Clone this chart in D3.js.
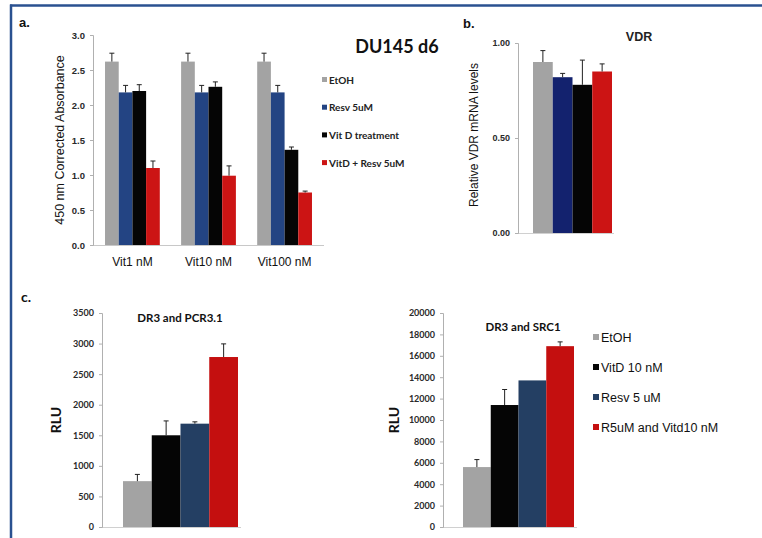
<!DOCTYPE html>
<html><head><meta charset="utf-8">
<script src="https://cdn.jsdelivr.net/npm/d3@7"></script>
<style>body{margin:0;background:#fff}svg{display:block}</style>
</head><body>
<svg id="c" width="762" height="538"></svg>
<script>
// ---- Data ----
const aGroups = ["Vit1 nM", "Vit10 nM", "Vit100 nM"];
const aSeries = ["EtOH", "Resv 5uM", "Vit D treatment", "VitD + Resv 5uM"];
const aValues = [[2.62, 2.62, 2.62], [2.18, 2.18, 2.18], [2.20, 2.26, 1.36], [1.10, 0.99, 0.75]];
const aErrors = [[0.12, 0.12, 0.12], [0.10, 0.10, 0.10], [0.09, 0.07, 0.04], [0.10, 0.14, 0.02]];
const aTicks = [0, 0.5, 1.0, 1.5, 2.0, 2.5, 3.0];

const bSeries = ["EtOH", "Resv 5uM", "Vit D treatment", "VitD + Resv 5uM"];
const bValues = [0.90, 0.82, 0.78, 0.85];
const bErrors = [0.06, 0.02, 0.13, 0.04];
const bTicks = [0, 0.5, 1.0];

const cSeries = ["EtOH", "VitD 10 nM", "Resv 5 uM", "R5uM and Vitd10 nM"];
const c1Values = [750, 1500, 1690, 2780];
const c1Errors = [110, 235, 30, 215];
const c1Ticks = [0, 500, 1000, 1500, 2000, 2500, 3000, 3500];
const c2Values = [5600, 11400, 13700, 16900];
const c2Errors = [700, 1450, 0, 400];
const c2Ticks = [0, 2000, 4000, 6000, 8000, 10000, 12000, 14000, 16000, 18000, 20000];

// ---- Styles ----
const aColors = ["#a3a3a3", "#234483", "#050505", "#cc1414"];
const bColors = ["#a3a3a3", "#13226e", "#050505", "#cc1414"];
const cColors = ["#a3a3a3", "#050505", "#243f63", "#c40f0f"];
const ARIAL = "'Liberation Sans', Arial, sans-serif";
const CAL = "Lato, 'Open Sans', sans-serif";

const svg = d3.select("#c");

// frame
svg.append("line").attr("x1", 10).attr("x2", 762).attr("y1", 5.5).attr("y2", 5.5)
  .attr("stroke", "#2a5190").attr("stroke-width", 2.5);
svg.append("line").attr("x1", 11).attr("x2", 11).attr("y1", 4.5).attr("y2", 538)
  .attr("stroke", "#2a5190").attr("stroke-width", 2.5);

function yAxis(g, y, x, ticks, fmt, font, size) {
  const ax = d3.axisLeft(y).tickValues(ticks).tickFormat(fmt).tickSize(3).tickPadding(5);
  const gg = g.append("g").attr("transform", `translate(${x},0)`).call(ax);
  gg.select(".domain").attr("stroke", "#b0b0b0");
  gg.selectAll(".tick line").attr("stroke", "#b0b0b0");
  gg.selectAll("text").attr("font-family", font).attr("font-size", size)
    .attr("font-weight", "bold").attr("fill", "#2a2a2a");
  return gg;
}

function errBar(g, x, yTop, yErr, capW) {
  if (yTop - yErr < 0.5) return;
  g.append("line").attr("x1", x).attr("x2", x).attr("y1", yTop).attr("y2", yErr)
    .attr("stroke", "#222").attr("stroke-width", 1);
  g.append("line").attr("x1", x - capW / 2).attr("x2", x + capW / 2).attr("y1", yErr).attr("y2", yErr)
    .attr("stroke", "#222").attr("stroke-width", 1);
}

// ===== Panel a =====
{
  const g = svg.append("g");
  const y = d3.scaleLinear().domain([0, 3]).range([245, 35]);
  const x0 = d3.scaleBand().domain(aGroups).range([93, 324]).paddingInner(0.28).paddingOuter(0.158);
  const x1 = d3.scaleBand().domain(aSeries).range([0, x0.bandwidth()]);
  g.append("line").attr("x1", 93).attr("x2", 324).attr("y1", 245.5).attr("y2", 245.5).attr("stroke", "#c8c8c8");
  yAxis(g, y, 93, aTicks, d3.format(".1f"), ARIAL, 9.5);
  aSeries.forEach((s, si) => {
    aGroups.forEach((grp, gi) => {
      const bx = x0(grp) + x1(s);
      const v = aValues[si][gi];
      g.append("rect").attr("x", bx).attr("y", y(v)).attr("width", x1.bandwidth()).attr("height", y(0) - y(v))
        .attr("fill", aColors[si]);
      errBar(g, bx + x1.bandwidth() / 2, y(v), y(v + aErrors[si][gi]), 5);
    });
  });
  aGroups.forEach(grp => {
    g.append("text").attr("x", x0(grp) + x0.bandwidth() / 2).attr("y", 266).attr("text-anchor", "middle")
      .attr("font-family", ARIAL).attr("font-size", 12).attr("fill", "#111").text(grp);
  });
  g.append("text").attr("transform", "translate(64,140) rotate(-90)").attr("text-anchor", "middle")
    .attr("font-family", ARIAL).attr("font-size", 12.5).attr("fill", "#111").text("450 nm Corrected Absorbance");
  g.append("text").attr("x", 19).attr("y", 27).attr("font-family", ARIAL).attr("font-weight", "bold")
    .attr("font-size", 13).attr("fill", "#111").text("a.");
  g.append("text").attr("x", 397).attr("y", 53).attr("text-anchor", "middle").attr("font-family", CAL)
    .attr("font-weight", "bold").attr("font-size", 18).attr("fill", "#111").text("DU145 d6");
  aSeries.forEach((s, i) => {
    const ly = 80 + i * 27.7;
    g.append("rect").attr("x", 322).attr("y", ly - 3).attr("width", 5).attr("height", 5).attr("fill", aColors[i]);
    g.append("text").attr("x", 329).attr("y", ly + 3.5).attr("font-family", CAL).attr("font-weight", "bold")
      .attr("font-size", 10).attr("fill", "#222").text(s);
  });
}

// ===== Panel b =====
{
  const g = svg.append("g");
  const y = d3.scaleLinear().domain([0, 1]).range([233, 43]);
  const x = d3.scaleBand().domain(bSeries).range([533, 612]);
  g.append("line").attr("x1", 518).attr("x2", 614).attr("y1", 233.5).attr("y2", 233.5).attr("stroke", "#d0d0d0");
  yAxis(g, y, 518, bTicks, d3.format(".2f"), ARIAL, 9);
  bSeries.forEach((s, i) => {
    const v = bValues[i];
    g.append("rect").attr("x", x(s)).attr("y", y(v)).attr("width", x.bandwidth()).attr("height", y(0) - y(v))
      .attr("fill", bColors[i]);
    errBar(g, x(s) + x.bandwidth() / 2, y(v), y(v + bErrors[i]), 5);
  });
  g.append("text").attr("transform", "translate(478,135) rotate(-90)").attr("text-anchor", "middle")
    .attr("font-family", ARIAL).attr("font-size", 12).attr("fill", "#111").text("Relative VDR mRNA levels");
  g.append("text").attr("x", 463).attr("y", 28).attr("font-family", ARIAL).attr("font-weight", "bold")
    .attr("font-size", 13).attr("fill", "#111").text("b.");
  g.append("text").attr("x", 639).attr("y", 41).attr("text-anchor", "middle").attr("font-family", ARIAL)
    .attr("font-weight", "bold").attr("font-size", 12.5).attr("fill", "#222").text("VDR");
}

// ===== Panel c =====
function cChart(values, errors, ticks, maxV, axisX, barX0, barX1, title, titleX, titleY, rluX) {
  const g = svg.append("g");
  const y = d3.scaleLinear().domain([0, maxV]).range([527, 313]);
  const x = d3.scaleBand().domain(cSeries).range([barX0, barX1]);
  g.append("line").attr("x1", axisX).attr("x2", barX1 + 3).attr("y1", 527.5).attr("y2", 527.5).attr("stroke", "#d0d0d0");
  yAxis(g, y, axisX, ticks, d3.format("d"), CAL, 9);
  cSeries.forEach((s, i) => {
    const v = values[i];
    g.append("rect").attr("x", x(s)).attr("y", y(v)).attr("width", x.bandwidth()).attr("height", y(0) - y(v))
      .attr("fill", cColors[i]);
    errBar(g, x(s) + x.bandwidth() / 2, y(v), y(v + errors[i]), 5);
  });
  g.append("text").attr("x", titleX).attr("y", titleY).attr("text-anchor", "middle").attr("font-family", CAL)
    .attr("font-weight", "bold").attr("font-size", 11.5).attr("fill", "#111").text(title);
  g.append("text").attr("transform", `translate(${rluX},420) rotate(-90)`).attr("text-anchor", "middle")
    .attr("font-family", CAL).attr("font-weight", "bold").attr("font-size", 14).attr("fill", "#111").text("RLU");
}
cChart(c1Values, c1Errors, c1Ticks, 3500, 102, 123, 238, "DR3 and PCR3.1", 180, 322, 61);
cChart(c2Values, c2Errors, c2Ticks, 20000, 443, 463, 574, "DR3 and SRC1", 523, 331, 399);

svg.append("text").attr("x", 21).attr("y", 302).attr("font-family", CAL).attr("font-weight", "bold")
  .attr("font-size", 14).attr("fill", "#111").text("c.");

cSeries.forEach((s, i) => {
  const ly = 337 + i * 30;
  svg.append("rect").attr("x", 593).attr("y", ly - 3).attr("width", 6).attr("height", 6).attr("fill", cColors[i]);
  svg.append("text").attr("x", 601).attr("y", ly + 4.5).attr("font-family", ARIAL)
    .attr("font-size", 12.5).attr("fill", "#111").text(s);
});
</script>
</body></html>
